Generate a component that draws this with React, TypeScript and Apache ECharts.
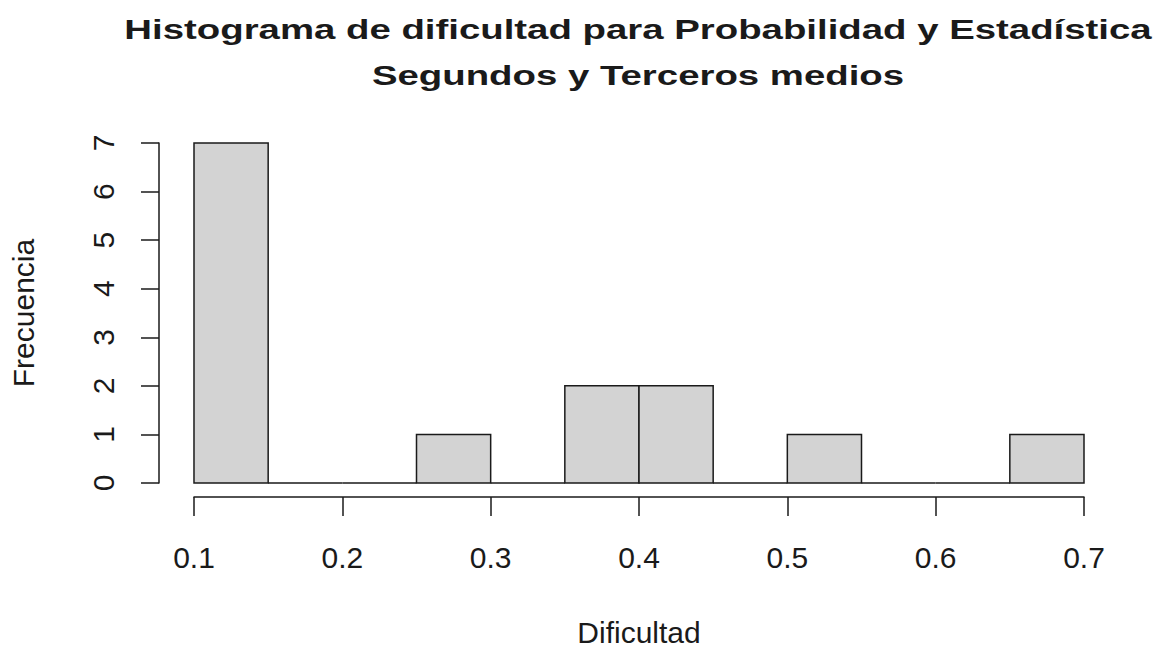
import React, { useEffect, useRef } from "react";
import * as echarts from "echarts";

const titleLines = [
  "Histograma de dificultad para Probabilidad y Estadística",
  "Segundos y Terceros medios",
];
const breaks = [0.1, 0.15, 0.2, 0.25, 0.3, 0.35, 0.4, 0.45, 0.5, 0.55, 0.6, 0.65, 0.7];
const counts = [7, 0, 0, 1, 0, 2, 2, 0, 1, 0, 0, 1];
const xTicks = [0.1, 0.2, 0.3, 0.4, 0.5, 0.6, 0.7];
const yTicks = [0, 1, 2, 3, 4, 5, 6, 7];
const xLabel = "Dificultad";
const yLabel = "Frecuencia";

const FONT = "'Liberation Sans', Arial, sans-serif";
const INK = "#1a1a1a";

export default function App() {
  const ref = useRef<HTMLDivElement>(null);
  useEffect(() => {
    const chart = echarts.init(ref.current!, null, { renderer: "svg" });
    const data = counts.map((c, i) => [breaks[i], breaks[i + 1], c]);
    chart.setOption({
      animation: false,
      backgroundColor: "#ffffff",
      textStyle: { fontFamily: FONT },
      grid: { left: 193, right: 75, top: 143, bottom: 163, containLabel: false },
      graphic: [
        {
          type: "text",
          x: 638,
          y: 43,
          scaleX: 1.37,
          style: {
            text: titleLines[0],
            font: `bold 28px ${FONT}`,
            fill: INK,
            textAlign: "center",
            textVerticalAlign: "bottom",
          },
        },
        {
          type: "text",
          x: 638,
          y: 89,
          scaleX: 1.37,
          style: {
            text: titleLines[1],
            font: `bold 28px ${FONT}`,
            fill: INK,
            textAlign: "center",
            textVerticalAlign: "bottom",
          },
        },
      ],
      xAxis: {
        type: "value",
        min: xTicks[0],
        max: xTicks[xTicks.length - 1],
        interval: 0.1,
        offset: 14,
        splitLine: { show: false },
        axisLine: { show: true, onZero: false, lineStyle: { color: INK, width: 1.5 } },
        axisTick: { show: true, length: 19, lineStyle: { color: INK, width: 1.5 } },
        axisLabel: {
          color: INK,
          fontSize: 30,
          fontFamily: FONT,
          margin: 45,
          formatter: (v: number) => v.toFixed(1),
        },
        name: xLabel,
        nameLocation: "middle",
        nameGap: 120,
        nameTextStyle: { color: INK, fontSize: 30, fontFamily: FONT },
      },
      yAxis: {
        type: "value",
        min: yTicks[0],
        max: yTicks[yTicks.length - 1],
        interval: 1,
        offset: 35,
        splitLine: { show: false },
        axisLine: { show: true, onZero: false, lineStyle: { color: INK, width: 1.5 } },
        axisTick: { show: true, length: 18, lineStyle: { color: INK, width: 1.5 } },
        axisLabel: {
          color: INK,
          fontSize: 30,
          fontFamily: FONT,
          rotate: 90,
          margin: 41,
        },
        name: yLabel,
        nameLocation: "middle",
        nameRotate: 90,
        nameGap: 121,
        nameTextStyle: { color: INK, fontSize: 30, fontFamily: FONT },
      },
      series: [
        {
          type: "custom",
          data,
          renderItem: (params: any, api: any) => {
            const p0 = api.coord([api.value(0), api.value(2)]);
            const p1 = api.coord([api.value(1), 0]);
            return {
              type: "rect",
              shape: { x: p0[0], y: p0[1], width: p1[0] - p0[0], height: p1[1] - p0[1] },
              style: { fill: "#d3d3d3", stroke: INK, lineWidth: 1.5 },
            };
          },
          encode: { x: [0, 1], y: 2 },
        },
      ],
    });
    return () => chart.dispose();
  }, []);
  return (
    <div
      ref={ref}
      style={{ position: "fixed", left: 0, top: 0, width: 1159, height: 652, background: "#fff" }}
    />
  );
}
